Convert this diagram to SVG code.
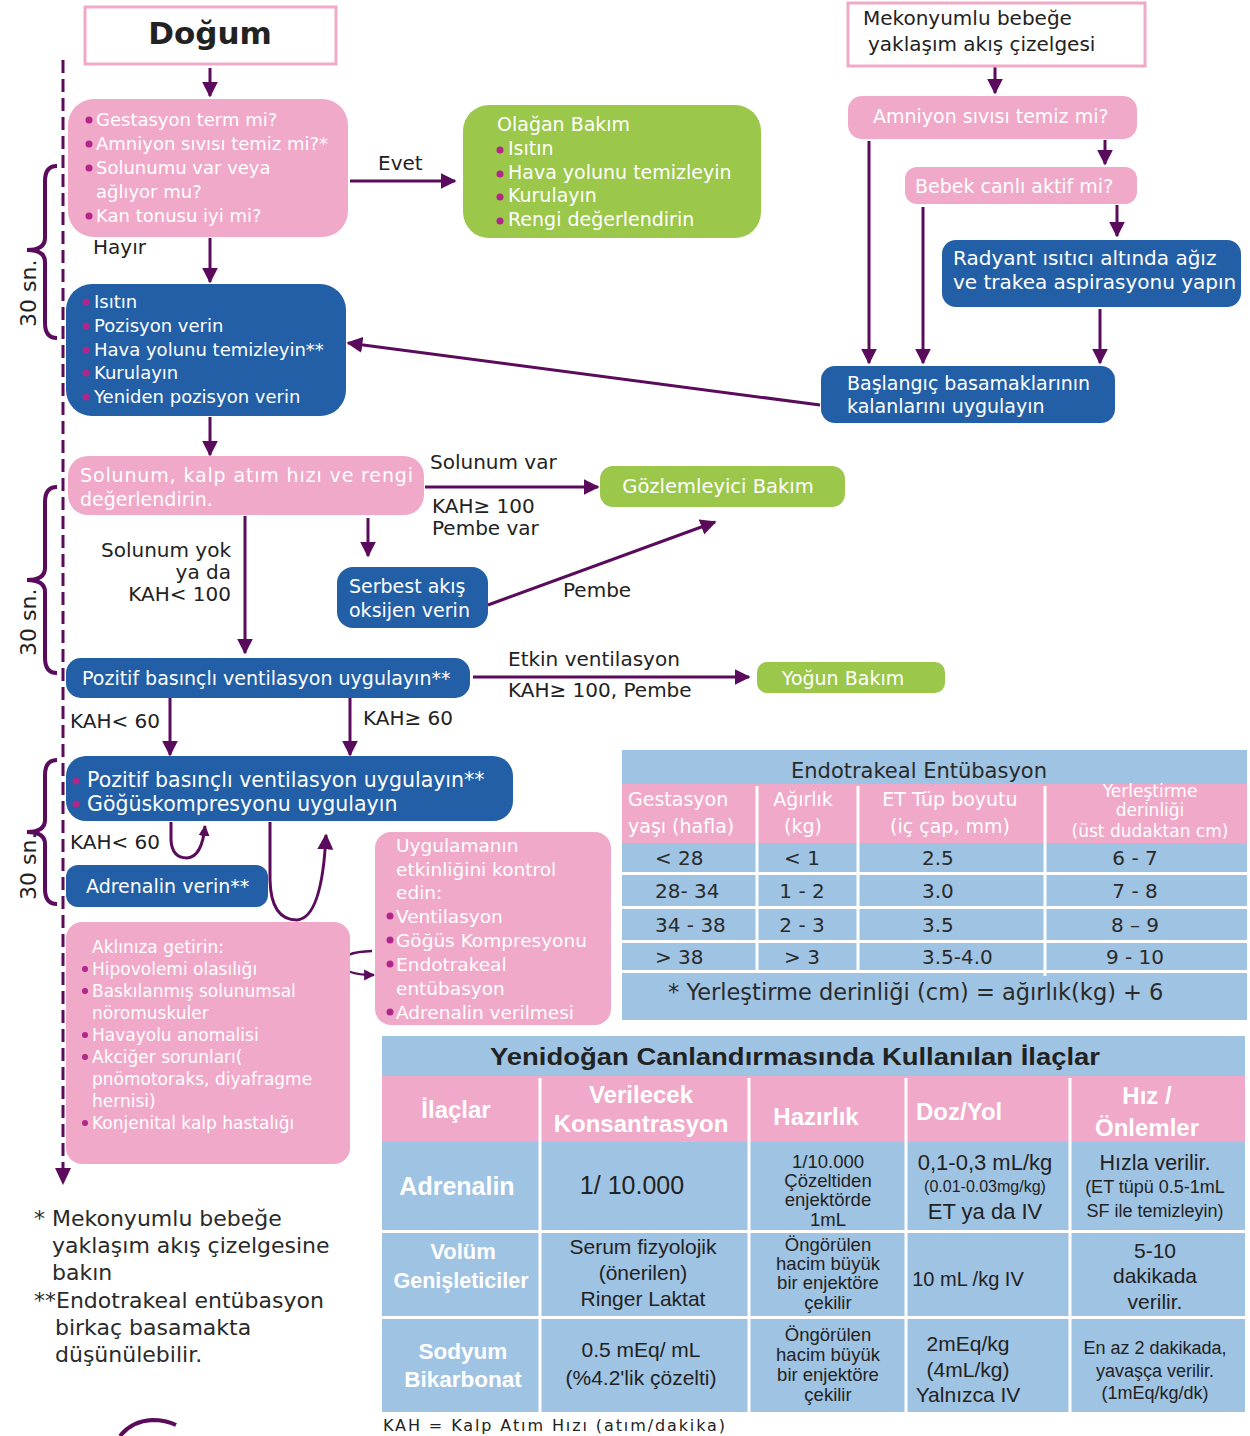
<svg xmlns="http://www.w3.org/2000/svg" width="1250" height="1436" viewBox="0 0 1250 1436">
<defs>
<marker id="ah" viewBox="0 0 10 10" refX="9" refY="5" markerWidth="16" markerHeight="17" markerUnits="userSpaceOnUse" orient="auto"><path d="M0,0 L10,5 L0,10 z" fill="#5a0b5c"/></marker>
<marker id="as" viewBox="0 0 10 10" refX="9" refY="5" markerWidth="11" markerHeight="12" markerUnits="userSpaceOnUse" orient="auto"><path d="M0,0 L10,5 L0,10 z" fill="#5a0b5c"/></marker>
<style>
.pk{fill:#f0a9c9}
.bl{fill:#225fa6}
.gr{fill:#9bc74a}
.tb{fill:#9fc3e3}
.tp{fill:#f0a9c9}
.wt{fill:#ffffff;font-family:"DejaVu Sans",sans-serif;font-size:19px}
.dk{fill:#222;font-family:"DejaVu Sans",sans-serif;font-size:20px}
.bu{fill:#b0268a}
.ln{stroke:#5a0b5c;stroke-width:3;fill:none}
.br{stroke:#5a0b5c;stroke-width:4;fill:none}
.dt{fill:#222;font-family:"Liberation Sans",Arial,sans-serif;font-size:21px}
.dh{fill:#fff;font-family:"Liberation Sans",Arial,sans-serif;font-size:24px;font-weight:bold}
.et{fill:#2a2a2a;font-family:"DejaVu Sans",sans-serif;font-size:20px}
.eh{fill:#fff;font-family:"DejaVu Sans",sans-serif;font-size:19px}
</style>
</defs>
<rect width="1250" height="1436" fill="#ffffff"/>

<!-- timeline -->
<line x1="63" y1="60" x2="63" y2="1168" stroke="#5a0b5c" stroke-width="3" stroke-dasharray="13,6"/>
<path d="M55,1168 L71,1168 L63,1185 z" fill="#5a0b5c"/>
<path class="br" d="M57,166 Q45,166 45,181 L45,238 Q45,250 27,250 Q45,250 45,262 L45,323 Q45,338 57,338"/>
<text class="dk" style="font-size:22px" transform="translate(36,327) rotate(-90)">30 sn.</text>
<path class="br" d="M57,487 Q45,487 45,502 L45,568 Q45,580 27,580 Q45,580 45,592 L45,658 Q45,673 57,673"/>
<text class="dk" style="font-size:22px" transform="translate(36,656) rotate(-90)">30 sn.</text>
<path class="br" d="M57,760 Q45,760 45,775 L45,820 Q45,832 27,832 Q45,832 45,844 L45,889 Q45,904 57,904"/>
<text class="dk" style="font-size:22px" transform="translate(36,900) rotate(-90)">30 sn.</text>

<g id="connectors">
<line class="ln" x1="210" y1="68" x2="210" y2="96" marker-end="url(#ah)"/>
<line class="ln" x1="350" y1="181" x2="455" y2="181" marker-end="url(#ah)"/>
<line class="ln" x1="210" y1="238" x2="210" y2="282" marker-end="url(#ah)"/>
<line class="ln" x1="210" y1="417" x2="210" y2="455" marker-end="url(#ah)"/>
<line class="ln" x1="425" y1="487" x2="598" y2="487" marker-end="url(#ah)"/>
<line class="ln" x1="368" y1="518" x2="368" y2="556" marker-end="url(#ah)"/>
<line class="ln" x1="488" y1="605" x2="715" y2="522" marker-end="url(#ah)"/>
<line class="ln" x1="245" y1="516" x2="245" y2="653" marker-end="url(#ah)"/>
<line class="ln" x1="473" y1="677" x2="749" y2="677" marker-end="url(#ah)"/>
<line class="ln" x1="170" y1="698" x2="170" y2="755" marker-end="url(#ah)"/>
<line class="ln" x1="350" y1="698" x2="350" y2="755" marker-end="url(#ah)"/>
<path class="ln" d="M171,822 L171,840 Q172,858 187,858 Q202,857 205,826" marker-end="url(#as)"/>
<path class="ln" d="M270,822 L270,880 Q271,920 297,920 Q322,918 326,835" marker-end="url(#ah)"/>
<path class="ln" style="stroke-width:2.5" d="M372,951 Q342,952 342,963 Q343,975 374,975" marker-end="url(#as)"/>
<line class="ln" x1="995" y1="67" x2="995" y2="93" marker-end="url(#ah)"/>
<line class="ln" x1="1105" y1="140" x2="1105" y2="164" marker-end="url(#ah)"/>
<line class="ln" x1="1117" y1="205" x2="1117" y2="236" marker-end="url(#ah)"/>
<line class="ln" x1="869" y1="141" x2="869" y2="363" marker-end="url(#ah)"/>
<line class="ln" x1="923" y1="207" x2="923" y2="363" marker-end="url(#ah)"/>
<line class="ln" x1="1100" y1="309" x2="1100" y2="363" marker-end="url(#ah)"/>
<line class="ln" x1="820" y1="405" x2="348" y2="343" marker-end="url(#ah)"/>
</g>

<!-- labels -->
<g id="labels">
<text class="dk" x="378" y="170">Evet</text>
<text class="dk" x="93" y="254">Hayır</text>
<text class="dk" x="430" y="469">Solunum var</text>
<text class="dk" x="432" y="513">KAH≥ 100</text>
<text class="dk" x="432" y="535">Pembe var</text>
<text class="dk" x="231" y="557" text-anchor="end">Solunum yok</text>
<text class="dk" x="231" y="579" text-anchor="end">ya da</text>
<text class="dk" x="231" y="601" text-anchor="end">KAH&lt; 100</text>
<text class="dk" x="563" y="597">Pembe</text>
<text class="dk" x="508" y="666">Etkin ventilasyon</text>
<text class="dk" x="508" y="697">KAH≥ 100, Pembe</text>
<text class="dk" x="70" y="728">KAH&lt; 60</text>
<text class="dk" x="363" y="725">KAH≥ 60</text>
<text class="dk" x="70" y="849">KAH&lt; 60</text>
</g>

<g id="n-dogum">
<rect x="85" y="7" width="251" height="57" fill="#fff" stroke="#f0a9c9" stroke-width="3"/>
<text x="210" y="44" text-anchor="middle" style="font-family:'DejaVu Sans',sans-serif;font-size:31px;font-weight:bold;fill:#222">Doğum</text>
</g>

<g id="n-sorular">
<rect class="pk" x="68" y="99" width="280" height="138" rx="26"/>
<g style="font-size:18px">
<circle class="bu" cx="89" cy="120" r="3.5"/><text class="wt" style="font-size:18px" x="96" y="126">Gestasyon term mi?</text>
<circle class="bu" cx="89" cy="144" r="3.5"/><text class="wt" style="font-size:18px" x="96" y="150">Amniyon sıvısı temiz mi?*</text>
<circle class="bu" cx="89" cy="168" r="3.5"/><text class="wt" style="font-size:18px" x="96" y="174">Solunumu var veya</text>
<text class="wt" style="font-size:18px" x="96" y="198">ağlıyor mu?</text>
<circle class="bu" cx="89" cy="216" r="3.5"/><text class="wt" style="font-size:18px" x="96" y="222">Kan tonusu iyi mi?</text>
</g>
</g>

<g id="n-olagan">
<rect class="gr" x="463" y="105" width="298" height="133" rx="26"/>
<text class="wt" x="497" y="131">Olağan Bakım</text>
<circle class="bu" cx="500" cy="150" r="3.5"/><text class="wt" x="508" y="155">Isıtın</text>
<circle class="bu" cx="500" cy="174" r="3.5"/><text class="wt" x="508" y="179">Hava yolunu temizleyin</text>
<circle class="bu" cx="500" cy="197" r="3.5"/><text class="wt" x="508" y="202">Kurulayın</text>
<circle class="bu" cx="500" cy="221" r="3.5"/><text class="wt" x="508" y="226">Rengi değerlendirin</text>
</g>

<g id="n-baslangic">
<rect class="bl" x="66" y="284" width="280" height="132" rx="26"/>
<circle class="bu" cx="86" cy="302" r="3.5"/><text class="wt" style="font-size:18px" x="94" y="308">Isıtın</text>
<circle class="bu" cx="86" cy="326" r="3.5"/><text class="wt" style="font-size:18px" x="94" y="332">Pozisyon verin</text>
<circle class="bu" cx="86" cy="350" r="3.5"/><text class="wt" style="font-size:18px" x="94" y="356">Hava yolunu temizleyin**</text>
<circle class="bu" cx="86" cy="373" r="3.5"/><text class="wt" style="font-size:18px" x="94" y="379">Kurulayın</text>
<circle class="bu" cx="86" cy="397" r="3.5"/><text class="wt" style="font-size:18px" x="94" y="403">Yeniden pozisyon verin</text>
</g>

<g id="n-degerlendir">
<rect class="pk" x="68" y="456" width="356" height="59" rx="20"/>
<text class="wt" x="80" y="482" textLength="333" lengthAdjust="spacing">Solunum, kalp atım hızı ve rengi</text>
<text class="wt" x="80" y="506">değerlendirin.</text>
</g>

<g id="n-gozlem">
<rect class="gr" x="600" y="466" width="245" height="41" rx="13"/>
<text class="wt" style="font-size:19.5px" x="718" y="493" text-anchor="middle">Gözlemleyici Bakım</text>
</g>

<g id="n-serbest">
<rect class="bl" x="337" y="567" width="151" height="61" rx="16"/>
<text class="wt" x="349" y="593">Serbest akış</text>
<text class="wt" x="349" y="617">oksijen verin</text>
</g>

<g id="n-ppv">
<rect class="bl" x="66" y="658" width="404" height="40" rx="15"/>
<text class="wt" x="82" y="685">Pozitif basınçlı ventilasyon uygulayın**</text>
</g>

<g id="n-yogun">
<rect class="gr" x="757" y="662" width="188" height="31" rx="10"/>
<text class="wt" x="843" y="685" text-anchor="middle">Yoğun Bakım</text>
</g>

<g id="n-ppv-gk">
<rect class="bl" x="66" y="756" width="447" height="65" rx="20"/>
<circle class="bu" cx="76" cy="781" r="3.5"/><text class="wt" style="font-size:20.5px" x="87" y="787">Pozitif basınçlı ventilasyon uygulayın**</text>
<circle class="bu" cx="76" cy="804" r="3.5"/><text class="wt" style="font-size:20.5px" x="87" y="811">Göğüskompresyonu uygulayın</text>
</g>

<g id="n-adrenalin">
<rect class="bl" x="66" y="865" width="202" height="42" rx="12"/>
<text class="wt" x="86" y="893">Adrenalin verin**</text>
</g>

<g id="n-kontrol">
<rect class="pk" x="375" y="832" width="236" height="193" rx="16"/>
<text class="wt" style="font-size:18.5px" x="396" y="852">Uygulamanın</text>
<text class="wt" style="font-size:18.5px" x="396" y="876">etkinliğini kontrol</text>
<text class="wt" style="font-size:18.5px" x="396" y="899">edin:</text>
<circle class="bu" cx="390" cy="916" r="3.5"/><text class="wt" style="font-size:18.5px" x="396" y="923">Ventilasyon</text>
<circle class="bu" cx="390" cy="940" r="3.5"/><text class="wt" style="font-size:18.5px" x="396" y="947">Göğüs Kompresyonu</text>
<circle class="bu" cx="390" cy="964" r="3.5"/><text class="wt" style="font-size:18.5px" x="396" y="971">Endotrakeal</text>
<text class="wt" style="font-size:18.5px" x="396" y="995">entübasyon</text>
<circle class="bu" cx="390" cy="1012" r="3.5"/><text class="wt" style="font-size:18.5px" x="396" y="1019">Adrenalin verilmesi</text>
</g>

<g id="n-akliniza">
<rect class="pk" x="66" y="922" width="284" height="242" rx="16"/>
<text class="wt" style="font-size:17px" x="92" y="953">Aklınıza getirin:</text>
<circle class="bu" cx="85" cy="969" r="3"/><text class="wt" style="font-size:17px" x="92" y="975">Hipovolemi olasılığı</text>
<circle class="bu" cx="85" cy="991" r="3"/><text class="wt" style="font-size:17px" x="92" y="997">Baskılanmış solunumsal</text>
<text class="wt" style="font-size:17px" x="92" y="1019">nöromuskuler</text>
<circle class="bu" cx="85" cy="1035" r="3"/><text class="wt" style="font-size:17px" x="92" y="1041">Havayolu anomalisi</text>
<circle class="bu" cx="85" cy="1057" r="3"/><text class="wt" style="font-size:17px" x="92" y="1063">Akciğer sorunları(</text>
<text class="wt" style="font-size:17px" x="92" y="1085">pnömotoraks, diyafragme</text>
<text class="wt" style="font-size:17px" x="92" y="1107">hernisi)</text>
<circle class="bu" cx="85" cy="1123" r="3"/><text class="wt" style="font-size:17px" x="92" y="1129">Konjenital kalp hastalığı</text>
</g>

<!-- meconium flow -->
<g id="n-mekonyum">
<rect x="848" y="3" width="297" height="63" fill="#fff" stroke="#f0a9c9" stroke-width="3"/>
<text class="dk" x="863" y="25">Mekonyumlu bebeğe</text>
<text class="dk" x="868" y="51">yaklaşım akış çizelgesi</text>
</g>
<g id="n-amniyon">
<rect class="pk" x="848" y="96" width="289" height="43" rx="14"/>
<text class="wt" x="873" y="123">Amniyon sıvısı temiz mi?</text>
</g>
<g id="n-bebek">
<rect class="pk" x="905" y="167" width="232" height="37" rx="12"/>
<text class="wt" x="915" y="193">Bebek canlı aktif mi?</text>
</g>
<g id="n-radyant">
<rect class="bl" x="942" y="240" width="299" height="67" rx="14"/>
<text class="wt" style="font-size:20px" x="953" y="265">Radyant ısıtıcı altında ağız</text>
<text class="wt" style="font-size:20px" x="953" y="289">ve trakea aspirasyonu yapın</text>
</g>
<g id="n-kalan">
<rect class="bl" x="821" y="366" width="294" height="57" rx="14"/>
<text class="wt" x="847" y="390">Başlangıç basamaklarının</text>
<text class="wt" x="847" y="413">kalanlarını uygulayın</text>
</g>

<!-- Endotracheal table -->
<g id="t-endotrakeal">
<rect class="tb" x="622" y="750" width="625" height="34"/>
<text class="et" style="font-size:21px" x="919" y="778" text-anchor="middle">Endotrakeal Entübasyon</text>
<rect class="tp" x="622" y="784" width="625" height="59"/>
<rect class="tb" x="622" y="843" width="625" height="29"/>
<rect class="tb" x="622" y="875" width="625" height="31"/>
<rect class="tb" x="622" y="909" width="625" height="31"/>
<rect class="tb" x="622" y="943" width="625" height="27"/>
<rect class="tb" x="622" y="973" width="625" height="47"/>
<g stroke="#fff" stroke-width="3">
<line x1="757" y1="786" x2="757" y2="970"/>
<line x1="858" y1="786" x2="858" y2="970"/>
<line x1="1045" y1="786" x2="1045" y2="976"/>
</g>
<text class="eh" x="628" y="806">Gestasyon</text>
<text class="eh" x="628" y="833">yaşı (hafla)</text>
<text class="eh" x="803" y="806" text-anchor="middle">Ağırlık</text>
<text class="eh" x="803" y="833" text-anchor="middle">(kg)</text>
<text class="eh" x="950" y="806" text-anchor="middle">ET Tüp boyutu</text>
<text class="eh" x="950" y="833" text-anchor="middle">(iç çap, mm)</text>
<text class="eh" style="font-size:17px" x="1150" y="797" text-anchor="middle">Yerleştirme</text>
<text class="eh" style="font-size:17px" x="1150" y="816" text-anchor="middle">derinliği</text>
<text class="eh" style="font-size:17px" x="1150" y="837" text-anchor="middle">(üst dudaktan cm)</text>
<text class="et" x="655" y="865">&lt; 28</text>
<text class="et" x="655" y="898">28- 34</text>
<text class="et" x="655" y="932">34 - 38</text>
<text class="et" x="655" y="964">&gt; 38</text>
<text class="et" x="802" y="865" text-anchor="middle">&lt; 1</text>
<text class="et" x="802" y="898" text-anchor="middle">1 - 2</text>
<text class="et" x="802" y="932" text-anchor="middle">2 - 3</text>
<text class="et" x="802" y="964" text-anchor="middle">&gt; 3</text>
<text class="et" x="922" y="865">2.5</text>
<text class="et" x="922" y="898">3.0</text>
<text class="et" x="922" y="932">3.5</text>
<text class="et" x="922" y="964">3.5-4.0</text>
<text class="et" x="1135" y="865" text-anchor="middle">6 - 7</text>
<text class="et" x="1135" y="898" text-anchor="middle">7 - 8</text>
<text class="et" x="1135" y="932" text-anchor="middle">8 – 9</text>
<text class="et" x="1135" y="964" text-anchor="middle">9 - 10</text>
<text class="et" style="font-size:22.5px" x="668" y="1000">* Yerleştirme derinliği (cm) = ağırlık(kg) + 6</text>
</g>

<!-- Drug table -->
<g id="t-ilaclar">
<rect class="tb" x="382" y="1036" width="863" height="40"/>
<text class="dt" style="font-size:24px;font-weight:bold" x="490" y="1065" textLength="610" lengthAdjust="spacingAndGlyphs">Yenidoğan Canlandırmasında Kullanılan İlaçlar</text>
<rect class="tp" x="382" y="1076" width="863" height="66"/>
<rect class="tb" x="382" y="1142" width="863" height="88"/>
<rect class="tb" x="382" y="1233" width="863" height="83"/>
<rect class="tb" x="382" y="1319" width="863" height="93"/>
<g stroke="#fff" stroke-width="3">
<line x1="540" y1="1078" x2="540" y2="1412"/>
<line x1="749" y1="1078" x2="749" y2="1412"/>
<line x1="906" y1="1078" x2="906" y2="1412"/>
<line x1="1070" y1="1078" x2="1070" y2="1412"/>
</g>
<text class="dh" x="456" y="1118" text-anchor="middle">İlaçlar</text>
<text class="dh" x="641" y="1103" text-anchor="middle">Verilecek</text>
<text class="dh" x="641" y="1132" text-anchor="middle">Konsantrasyon</text>
<text class="dh" x="816" y="1125" text-anchor="middle">Hazırlık</text>
<text class="dh" x="916" y="1120">Doz/Yol</text>
<text class="dh" x="1147" y="1104" text-anchor="middle">Hız /</text>
<text class="dh" x="1147" y="1136" text-anchor="middle">Önlemler</text>

<text class="dh" style="font-size:25px" x="457" y="1195" text-anchor="middle">Adrenalin</text>
<text class="dt" style="font-size:25px" x="632" y="1194" text-anchor="middle">1/ 10.000</text>
<text class="dt" style="font-size:18.5px" x="828" y="1168" text-anchor="middle">1/10.000</text>
<text class="dt" style="font-size:18.5px" x="828" y="1187" text-anchor="middle">Çözeltiden</text>
<text class="dt" style="font-size:18.5px" x="828" y="1206" text-anchor="middle">enjektörde</text>
<text class="dt" style="font-size:18.5px" x="828" y="1226" text-anchor="middle">1mL</text>
<text class="dt" style="font-size:22px" x="985" y="1170" text-anchor="middle">0,1-0,3 mL/kg</text>
<text class="dt" style="font-size:16px" x="985" y="1192" text-anchor="middle">(0.01-0.03mg/kg)</text>
<text class="dt" style="font-size:22px" x="985" y="1219" text-anchor="middle">ET ya da IV</text>
<text class="dt" style="font-size:21.5px" x="1155" y="1170" text-anchor="middle">Hızla verilir.</text>
<text class="dt" style="font-size:18px" x="1155" y="1193" text-anchor="middle">(ET tüpü 0.5-1mL</text>
<text class="dt" style="font-size:18px" x="1155" y="1217" text-anchor="middle">SF ile temizleyin)</text>

<text class="dh" style="font-size:22px" x="463" y="1259" text-anchor="middle">Volüm</text>
<text class="dh" style="font-size:21.5px" x="461" y="1288" text-anchor="middle">Genişleticiler</text>
<text class="dt" x="643" y="1254" text-anchor="middle">Serum fizyolojik</text>
<text class="dt" x="643" y="1280" text-anchor="middle">(önerilen)</text>
<text class="dt" x="643" y="1306" text-anchor="middle">Ringer Laktat</text>
<text class="dt" style="font-size:18.5px" x="828" y="1251" text-anchor="middle">Öngörülen</text>
<text class="dt" style="font-size:18.5px" x="828" y="1270" text-anchor="middle">hacim büyük</text>
<text class="dt" style="font-size:18.5px" x="828" y="1289" text-anchor="middle">bir enjektöre</text>
<text class="dt" style="font-size:18.5px" x="828" y="1309" text-anchor="middle">çekilir</text>
<text class="dt" style="font-size:20px" x="968" y="1286" text-anchor="middle">10 mL /kg IV</text>
<text class="dt" x="1155" y="1258" text-anchor="middle">5-10</text>
<text class="dt" x="1155" y="1283" text-anchor="middle">dakikada</text>
<text class="dt" x="1155" y="1309" text-anchor="middle">verilir.</text>

<text class="dh" style="font-size:22.5px" x="463" y="1359" text-anchor="middle">Sodyum</text>
<text class="dh" style="font-size:22.5px" x="463" y="1387" text-anchor="middle">Bikarbonat</text>
<text class="dt" x="641" y="1357" text-anchor="middle">0.5 mEq/ mL</text>
<text class="dt" x="641" y="1385" text-anchor="middle">(%4.2'lik çözelti)</text>
<text class="dt" style="font-size:18.5px" x="828" y="1341" text-anchor="middle">Öngörülen</text>
<text class="dt" style="font-size:18.5px" x="828" y="1361" text-anchor="middle">hacim büyük</text>
<text class="dt" style="font-size:18.5px" x="828" y="1381" text-anchor="middle">bir enjektöre</text>
<text class="dt" style="font-size:18.5px" x="828" y="1401" text-anchor="middle">çekilir</text>
<text class="dt" x="968" y="1351" text-anchor="middle">2mEq/kg</text>
<text class="dt" x="968" y="1377" text-anchor="middle">(4mL/kg)</text>
<text class="dt" x="968" y="1402" text-anchor="middle">Yalnızca IV</text>
<text class="dt" style="font-size:18px" x="1155" y="1354" text-anchor="middle">En az 2 dakikada,</text>
<text class="dt" style="font-size:18px" x="1155" y="1377" text-anchor="middle">yavaşça verilir.</text>
<text class="dt" style="font-size:18px" x="1155" y="1399" text-anchor="middle">(1mEq/kg/dk)</text>
</g>
<text class="dk" style="font-size:16px" x="383" y="1431" textLength="342" lengthAdjust="spacing">KAH = Kalp Atım Hızı (atım/dakika)</text>

<!-- footnotes -->
<g id="footnotes" style="font-family:'DejaVu Sans',sans-serif;font-size:22px;fill:#2a2a2a">
<text x="34" y="1226">* Mekonyumlu bebeğe</text>
<text x="52" y="1253">yaklaşım akış çizelgesine</text>
<text x="52" y="1280">bakın</text>
<text x="34" y="1308">**Endotrakeal entübasyon</text>
<text x="55" y="1335">birkaç basamakta</text>
<text x="55" y="1362">düşünülebilir.</text>
</g>
<path d="M120,1436 Q132,1421 152,1420 Q166,1420 176,1425" stroke="#5a0b5c" stroke-width="4" fill="none"/>
</svg>
